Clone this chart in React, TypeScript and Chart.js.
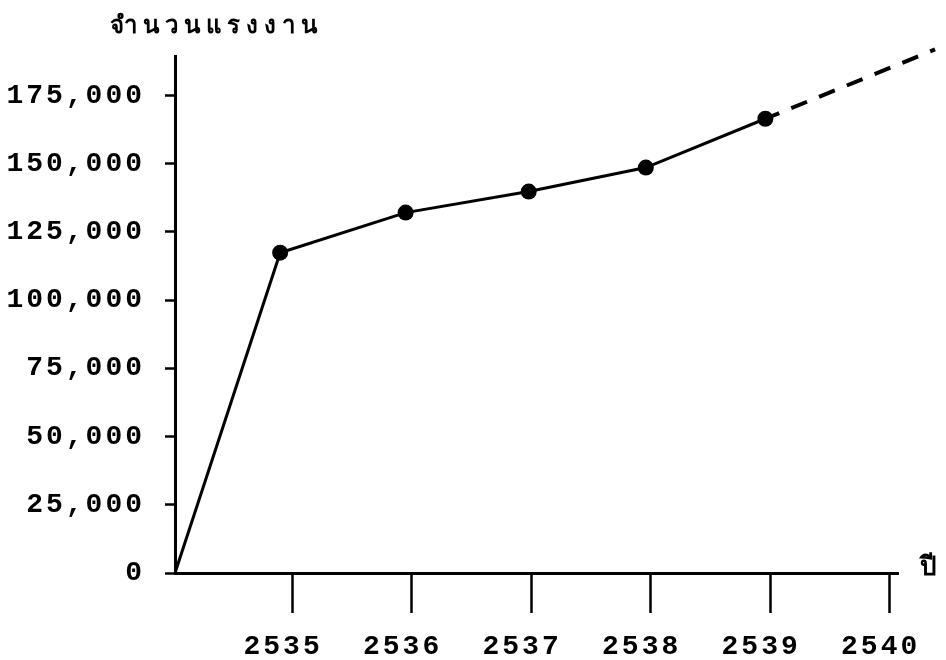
import React, { useEffect, useRef } from "react";
import { Chart, registerables } from "chart.js";

Chart.register(...registerables);

const yTitle = "จำนวนแรงงาน";
const xTitle = "ปี";
const xTickValues = [2535, 2536, 2537, 2538, 2539, 2540];
const yTickValues = [0, 25000, 50000, 75000, 100000, 125000, 150000, 175000];
const years = [2534.02, 2534.9, 2535.95, 2536.98, 2537.96, 2538.96];
const workers = [0, 117400, 132100, 139800, 148600, 166500];
const projYears = [2538.96, 2540.38];
const projWorkers = [166500, 191900];
const xMin = 2534.02;
const xMax = 2540.07;
const yMax = 189500;

const fmt = (v: number) => v.toLocaleString("en-US");

const textPlugin = {
  id: "texts",
  beforeDraw(chart: any) {
    chart.ctx.letterSpacing = "3px";
  },
  afterDraw(chart: any) {
    const ctx = chart.ctx;
    ctx.save();
    ctx.fillStyle = "#000";
    ctx.letterSpacing = "6px";
    ctx.font = "bold 24px 'DejaVu Sans', sans-serif";
    ctx.textAlign = "left";
    ctx.textBaseline = "middle";
    ctx.fillText(yTitle, 110, 27);
    ctx.letterSpacing = "0px";
    ctx.font = "bold 26px 'DejaVu Sans', sans-serif";
    ctx.textBaseline = "alphabetic";
    ctx.fillText(xTitle, chart.chartArea.right + 22, chart.chartArea.bottom + 2);
    ctx.restore();
  },
};

export default function App() {
  const ref = useRef<HTMLCanvasElement>(null);
  useEffect(() => {
    if (!ref.current) return;
    const tickFont = { family: "'Liberation Mono', monospace", size: 28, weight: "bold" as const };
    const chart = new Chart(ref.current, {
      type: "line",
      data: {
        datasets: [
          {
            data: years.map((x, i) => ({ x, y: workers[i] })),
            borderColor: "#000",
            backgroundColor: "#000",
            borderWidth: 3,
            pointRadius: years.map((_, i) => (i === 0 ? 0 : 8)),
            pointBorderWidth: 0,
            tension: 0,
            clip: false as any,
          },
          {
            data: projYears.map((x, i) => ({ x, y: projWorkers[i] })),
            borderColor: "#000",
            borderWidth: 4,
            borderDash: [17, 13],
            borderDashOffset: 2,
            pointRadius: 0,
            tension: 0,
            clip: false as any,
          },
        ],
      },
      options: {
        animation: false,
        responsive: false,
        devicePixelRatio: 1,
        layout: { padding: { top: 56, right: 48, left: 0, bottom: 0 } },
        plugins: { legend: { display: false }, tooltip: { enabled: false }, title: { display: false } },
        scales: {
          x: {
            type: "linear",
            min: xMin,
            max: xMax,
            afterBuildTicks: (s: any) => {
              s.ticks = xTickValues.map((v) => ({ value: v }));
            },
            afterFit: (s: any) => {
              s.height = 87;
            },
            ticks: {
              color: "#000",
              font: tickFont,
              padding: 17,
              labelOffset: -9,
              maxRotation: 0,
              autoSkip: false,
              callback: (v: any) => String(v),
            },
            grid: { drawOnChartArea: false, drawTicks: true, tickLength: 40, tickWidth: 2.5, tickColor: "#000" },
            border: { display: true, color: "#000", width: 3 },
          },
          y: {
            type: "linear",
            min: 0,
            max: yMax,
            afterBuildTicks: (s: any) => {
              s.ticks = yTickValues.map((v) => ({ value: v }));
            },
            afterFit: (s: any) => {
              s.width = 175;
            },
            ticks: {
              color: "#000",
              font: tickFont,
              padding: 20,
              autoSkip: false,
              callback: (v: any) => fmt(Number(v)),
            },
            grid: { drawOnChartArea: false, drawTicks: true, tickLength: 10, tickWidth: 2.5, tickColor: "#000" },
            border: { display: true, color: "#000", width: 3 },
          },
        },
      },
      plugins: [textPlugin],
    });
    return () => chart.destroy();
  }, []);
  return (
    <div style={{ position: "absolute", left: 0, top: 0, width: 946, height: 660, background: "#fff" }}>
      <canvas ref={ref} width={946} height={660} />
    </div>
  );
}
